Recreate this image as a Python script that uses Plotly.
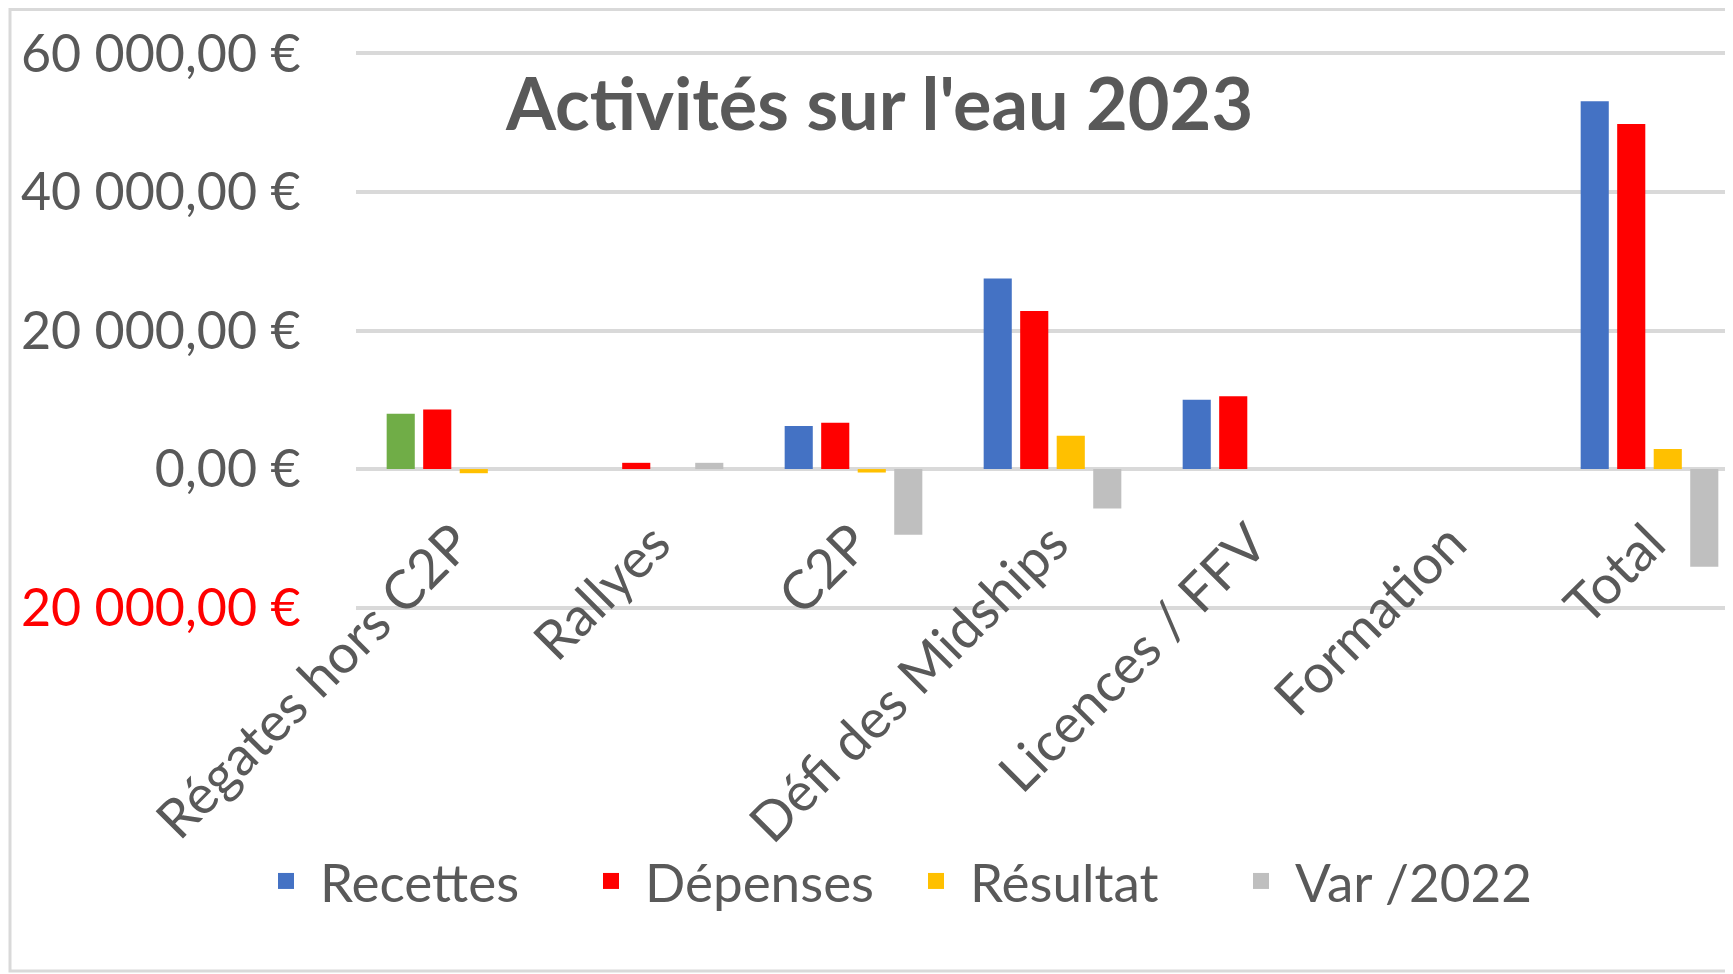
import plotly.graph_objects as go

# ---------------- data ----------------
categories = ["Régates hors C2P", "Rallyes", "C2P", "Défi des Midships",
              "Licences / FFV", "Formation", "Total"]
recettes = [8000, 0, 6200, 27500, 10000, 0, 53100]
depenses = [8600, 900, 6700, 22800, 10500, 0, 49800]
resultat = [-600, 0, -500, 4800, 0, 0, 2900]
var_2022 = [0, 900, -9500, -5700, 0, 0, -14100]
recettes_colors = ["#70AD47", "#4472C4", "#4472C4", "#4472C4", "#4472C4", "#4472C4", "#4472C4"]
series_names = ["Recettes", "Dépenses", "Résultat", "Var /2022"]
series_colors = ["#4472C4", "#FF0000", "#FFC000", "#BFBFBF"]
y_tick_vals = [-20000, 0, 20000, 40000, 60000]
y_tick_text = ['<span style="color:#FF0000">20 000,00 €</span>', "0,00 €",
               "20 000,00 €", "40 000,00 €", "60 000,00 €"]
title_text = "Activités sur l'eau 2023"

# ---------------- layout geometry (figure pixels) ----------------
W, H = 1733, 974
ML, MR, MT, MB = 348, 0, 44, 373
PW, PH = W - ML - MR, H - MT - MB
Y_RANGE = [-20200, 60200]
X_RANGE = [-0.5, -0.5 + PW / 199.0]


def px_x(p):
    return (p - ML) / PW


def px_y(p):
    return (H - MB - p) / PH


FONT = "Lato"
GREY_TXT = "#595959"

fig = go.Figure()

series_values = [recettes, depenses, resultat, var_2022]
groups = ["rec", "dep", "res", "var"]
for i, (name, vals) in enumerate(zip(series_names, series_values)):
    colors = recettes_colors if i == 0 else series_colors[i]
    fig.add_trace(go.Bar(x=categories, y=vals, name=name, showlegend=False,
                         marker=dict(color=colors, line=dict(width=0)),
                         offsetgroup=groups[i]))

# legend entries (square swatches)
for name, col in zip(series_names, series_colors):
    fig.add_trace(go.Scatter(x=[None], y=[None], name=name, mode="markers",
                             marker=dict(symbol="square", size=30, color=col),
                             hoverinfo="skip"))

fig.update_layout(
    width=W, height=H,
    margin=dict(l=ML, r=MR, t=MT, b=MB, pad=0),
    paper_bgcolor="white", plot_bgcolor="white",
    barmode="group", bargap=0.266, bargroupgap=0.23,
    font=dict(family=FONT, color=GREY_TXT),
    showlegend=True,
    legend=dict(orientation="h", x=px_x(894), y=px_y(873),
                xanchor="center", yanchor="middle",
                itemwidth=58, entrywidth=252, entrywidthmode="pixels",
                font=dict(family=FONT, size=53, color=GREY_TXT),
                bgcolor="rgba(0,0,0,0)", traceorder="normal"),
    xaxis=dict(type="category", categoryorder="array", categoryarray=categories,
               range=X_RANGE, anchor="free",
               position=(0 - Y_RANGE[0]) / (Y_RANGE[1] - Y_RANGE[0]),
               showgrid=False, showline=False, zeroline=False,
               ticks="outside", ticklen=20, tickcolor="rgba(0,0,0,0)",
               tickangle=-45, tickfont=dict(family=FONT, size=54, color=GREY_TXT)),
    yaxis=dict(range=Y_RANGE, tickvals=y_tick_vals, ticktext=y_tick_text,
               showgrid=True, gridcolor="#D9D9D9", gridwidth=4,
               zeroline=True, zerolinecolor="#D9D9D9", zerolinewidth=4,
               showline=False, ticks="outside", ticklen=44, tickcolor="rgba(0,0,0,0)",
               tickfont=dict(family=FONT, size=52, color=GREY_TXT)),
    annotations=[dict(text="<b>" + title_text + "</b>", xref="paper", yref="paper",
                      x=px_x(871), y=px_y(94), xanchor="center", yanchor="middle",
                      showarrow=False, font=dict(family=FONT, size=72, color=GREY_TXT))],
    shapes=[dict(type="rect", xref="paper", yref="paper", layer="below",
                 x0=px_x(2), x1=px_x(1800), y0=px_y(963), y1=px_y(1.5),
                 line=dict(color="#D9D9D9", width=3), fillcolor="rgba(0,0,0,0)")],
)

fig.write_html("out.html")
